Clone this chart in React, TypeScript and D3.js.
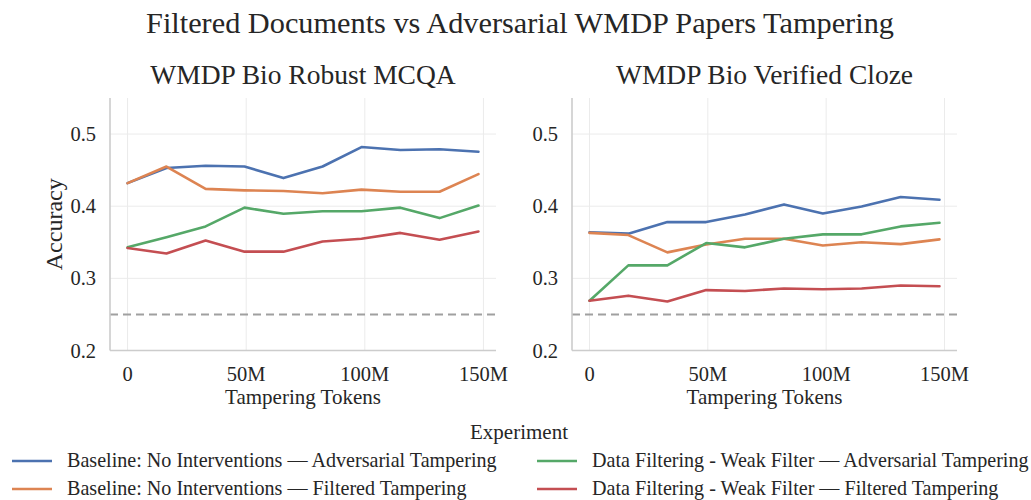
import React from 'react';
import * as d3 from 'd3';

const tokens = [0, 16.4, 32.9, 49.3, 65.7, 82.2, 98.6, 115.0, 131.5, 147.9]; // millions

const seriesNames = [
  'Baseline: No Interventions — Adversarial Tampering',
  'Baseline: No Interventions — Filtered Tampering',
  'Data Filtering - Weak Filter — Adversarial Tampering',
  'Data Filtering - Weak Filter — Filtered Tampering',
];
const colors = ['#4c72b0', '#dd8452', '#55a868', '#c44e52'];

const mcqaBaseAdv = [0.432, 0.453, 0.456, 0.455, 0.439, 0.455, 0.482, 0.478, 0.479, 0.4755];
const mcqaBaseFilt = [0.432, 0.455, 0.424, 0.422, 0.421, 0.418, 0.423, 0.420, 0.420, 0.4445];
const mcqaWeakAdv = [0.343, 0.357, 0.372, 0.398, 0.3895, 0.393, 0.393, 0.398, 0.3835, 0.401];
const mcqaWeakFilt = [0.342, 0.3345, 0.3525, 0.337, 0.337, 0.351, 0.355, 0.363, 0.3535, 0.365];

const clozeBaseAdv = [0.364, 0.362, 0.378, 0.378, 0.3886, 0.4025, 0.390, 0.3997, 0.4127, 0.409];
const clozeBaseFilt = [0.363, 0.360, 0.336, 0.347, 0.355, 0.355, 0.3456, 0.350, 0.3475, 0.354];
const clozeWeakAdv = [0.269, 0.318, 0.318, 0.349, 0.343, 0.355, 0.361, 0.361, 0.372, 0.377];
const clozeWeakFilt = [0.269, 0.276, 0.268, 0.2837, 0.2825, 0.286, 0.285, 0.286, 0.290, 0.289];

const xTicks = [0, 50, 100, 150];
const xTickLabels = ['0', '50M', '100M', '150M'];
const yTicks = [0.2, 0.3, 0.4, 0.5];
const chanceLevel = 0.25;

const panels = [
  { title: 'WMDP Bio Robust MCQA', series: [mcqaBaseAdv, mcqaBaseFilt, mcqaWeakAdv, mcqaWeakFilt], left: 110, right: 496, ylabel: true },
  { title: 'WMDP Bio Verified Cloze', series: [clozeBaseAdv, clozeBaseFilt, clozeWeakAdv, clozeWeakFilt], left: 572, right: 957, ylabel: false },
];

const FONT = '"Liberation Serif", "Times New Roman", serif';
const TOP = 98;
const BOTTOM = 350.5;

const Panel = ({ p }) => {
  const x = d3.scaleLinear().domain([-7.4, 155.3]).range([p.left, p.right]);
  const y = d3.scaleLinear().domain([0.2, 0.55]).range([BOTTOM, TOP]);
  const line = d3.line<number>()
    .x((_, i) => x(tokens[i]))
    .y(d => y(d));
  const cx = (p.left + p.right) / 2;
  return (
    <g>
      {/* grid */}
      {xTicks.map(t => (
        <line key={'gx' + t} x1={x(t)} x2={x(t)} y1={TOP} y2={BOTTOM} stroke="#ebebeb" strokeWidth={1} />
      ))}
      {yTicks.map(t => (
        <line key={'gy' + t} x1={p.left} x2={p.right} y1={y(t)} y2={y(t)} stroke="#ebebeb" strokeWidth={1} />
      ))}
      {/* chance */}
      <line x1={p.left} x2={p.right} y1={y(chanceLevel)} y2={y(chanceLevel)}
        stroke="#a0a0a0" strokeWidth={2} strokeDasharray="8,5" />
      {p.series.map((s, i) => (
        <path key={i} d={line(s)} fill="none" stroke={colors[i]} strokeWidth={2.6} strokeLinejoin="round" strokeLinecap="round" />
      ))}
      {/* spines */}
      <line x1={p.left} x2={p.left} y1={TOP} y2={BOTTOM} stroke="#cccccc" strokeWidth={1.6} />
      <line x1={p.left} x2={p.right} y1={BOTTOM} y2={BOTTOM} stroke="#cccccc" strokeWidth={1.6} />
      {xTicks.map((t, i) => (
        <text key={'tx' + t} x={x(t)} y={381} textAnchor="middle" fontSize={20.5} fill="#262626">{xTickLabels[i]}</text>
      ))}
      {yTicks.map(t => (
        <text key={'ty' + t} x={p.left - 14} y={y(t) + 7} textAnchor="end" fontSize={20.5} fill="#262626">{t.toFixed(1)}</text>
      ))}
      <text x={cx} y={404} textAnchor="middle" fontSize={21} fill="#262626">Tampering Tokens</text>
      <text x={cx} y={84} textAnchor="middle" fontSize={27.5} fill="#262626">{p.title}</text>
      {p.ylabel && (
        <text transform={`translate(62,${(TOP + BOTTOM) / 2}) rotate(-90)`} textAnchor="middle" fontSize={24} fill="#262626">Accuracy</text>
      )}
    </g>
  );
};

export default function App() {
  const legendCols = [12, 537];
  const legendRows = [461, 489];
  return (
    <svg width={1031} height={500} style={{ display: 'block', position: 'absolute', left: 0, top: 0, background: '#fff' }} fontFamily={FONT}>
      <rect width={1031} height={500} fill="#fff" />
      <text x={520} y={33} textAnchor="middle" fontSize={30.3} fill="#262626">Filtered Documents vs Adversarial WMDP Papers Tampering</text>
      {panels.map((p, i) => <Panel key={i} p={p} />)}
      <text x={519} y={439} textAnchor="middle" fontSize={21} fill="#262626">Experiment</text>
      {seriesNames.map((name, i) => {
        const col = Math.floor(i / 2);
        const row = i % 2;
        const lx = legendCols[col];
        const ly = legendRows[row];
        return (
          <g key={name}>
            <line x1={lx} x2={lx + 40} y1={ly} y2={ly} stroke={colors[i]} strokeWidth={2.6} />
            <text x={lx + 55} y={ly + 6} fontSize={20.1} fill="#262626">{name}</text>
          </g>
        );
      })}
    </svg>
  );
}
